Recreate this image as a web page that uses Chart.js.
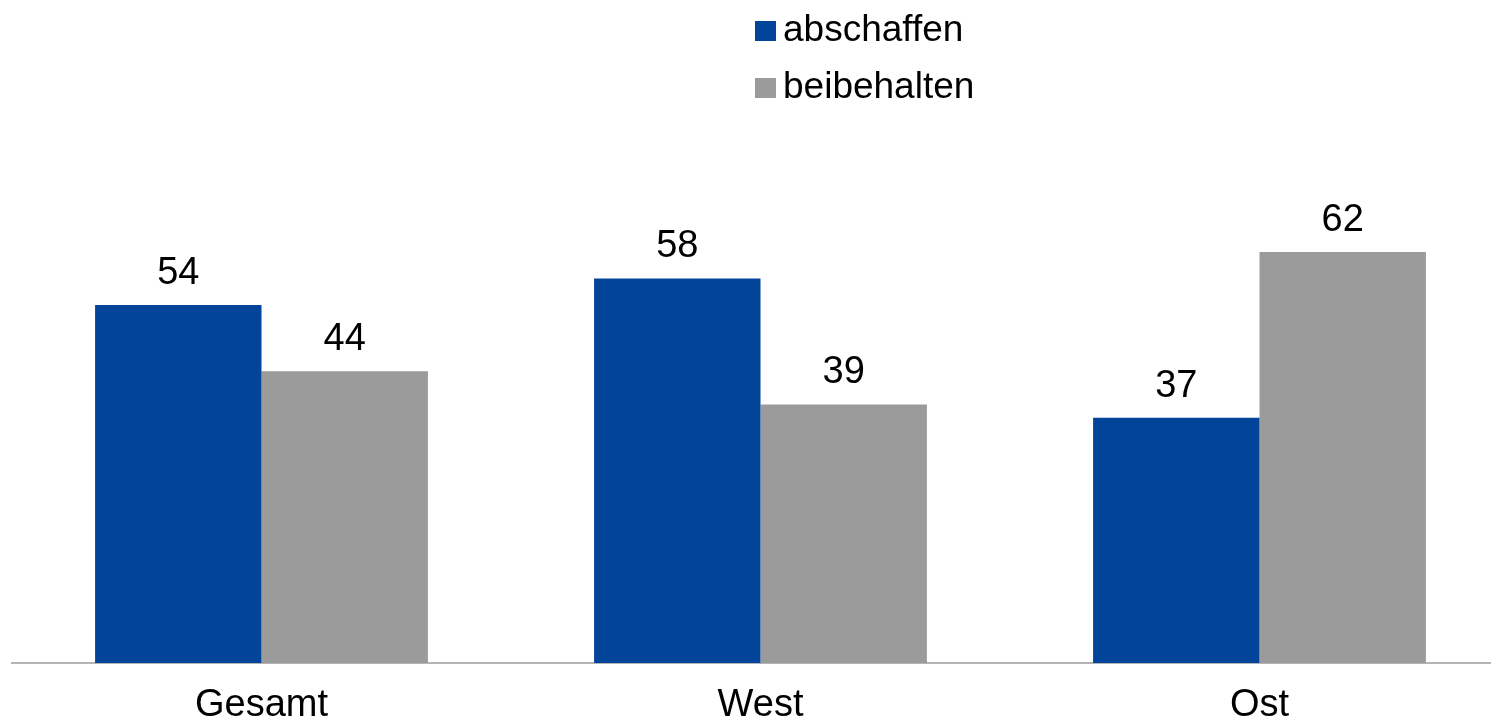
<!DOCTYPE html>
<html>
<head>
<meta charset="utf-8">
<script src="https://cdn.jsdelivr.net/npm/chart.js@4/dist/chart.umd.min.js"></script>
<style>
  html, body { margin: 0; padding: 0; background: #fff; overflow: hidden; }
  #wrap { position: relative; width: 1509px; height: 717px; }
  #legend { position: absolute; left: 755px; top: 0px; font-family: "Liberation Sans", Arial, sans-serif; font-size: 37px; color: #000; }
  .legend-row { display: flex; align-items: center; height: 57px; }
  .legend-dot { display: inline-block; width: 21px; height: 20px; margin-right: 7px; margin-top: 4px; }
</style>
</head>
<body>
<div id="wrap">
  <canvas id="chart" width="1509" height="717"></canvas>
  <div id="legend"></div>
</div>
<script>
  const categories = ['Gesamt', 'West', 'Ost'];
  const seriesNames = ['abschaffen', 'beibehalten'];
  const abschaffen = [54, 58, 37];
  const beibehalten = [44, 39, 62];
  const colors = ['#02449a', '#9b9b9b'];

  const font = '"Liberation Sans", Arial, sans-serif';

  // value labels above each bar
  const valueLabels = {
    id: 'valueLabels',
    afterDatasetsDraw(chart) {
      const ctx = chart.ctx;
      ctx.save();
      ctx.font = '38px ' + font;
      ctx.fillStyle = '#000';
      ctx.textAlign = 'center';
      ctx.textBaseline = 'alphabetic';
      chart.data.datasets.forEach((ds, i) => {
        chart.getDatasetMeta(i).data.forEach((bar, j) => {
          ctx.fillText(ds.data[j], bar.x, bar.y - 21);
        });
      });
      ctx.restore();
    }
  };

  new Chart(document.getElementById('chart'), {
    type: 'bar',
    data: {
      labels: categories,
      datasets: [
        { label: seriesNames[0], data: abschaffen, backgroundColor: colors[0] },
        { label: seriesNames[1], data: beibehalten, backgroundColor: colors[1] }
      ]
    },
    options: {
      responsive: false,
      animation: false,
      layout: { padding: { left: 12, right: 0, top: 0, bottom: 0 } },
      datasets: { bar: { categoryPercentage: 0.667, barPercentage: 1.0 } },
      plugins: { legend: { display: false }, tooltip: { enabled: false } },
      scales: {
        x: {
          grid: { display: false, drawTicks: false },
          border: { display: true, color: '#b4b4b4', width: 2 },
          ticks: { color: '#000', font: { family: font, size: 38 }, padding: 20 },
          afterFit(scale) { scale.height = 54; }
        },
        y: {
          display: false,
          min: 0,
          max: 100
        }
      }
    },
    plugins: [valueLabels]
  });

  document.getElementById('legend').innerHTML = seriesNames.map((name, i) => `
    <div class="legend-row">
      <span class="legend-dot" style="background-color: ${colors[i]};"></span>
      <span>${name}</span>
    </div>`).join('');
</script>
</body>
</html>
